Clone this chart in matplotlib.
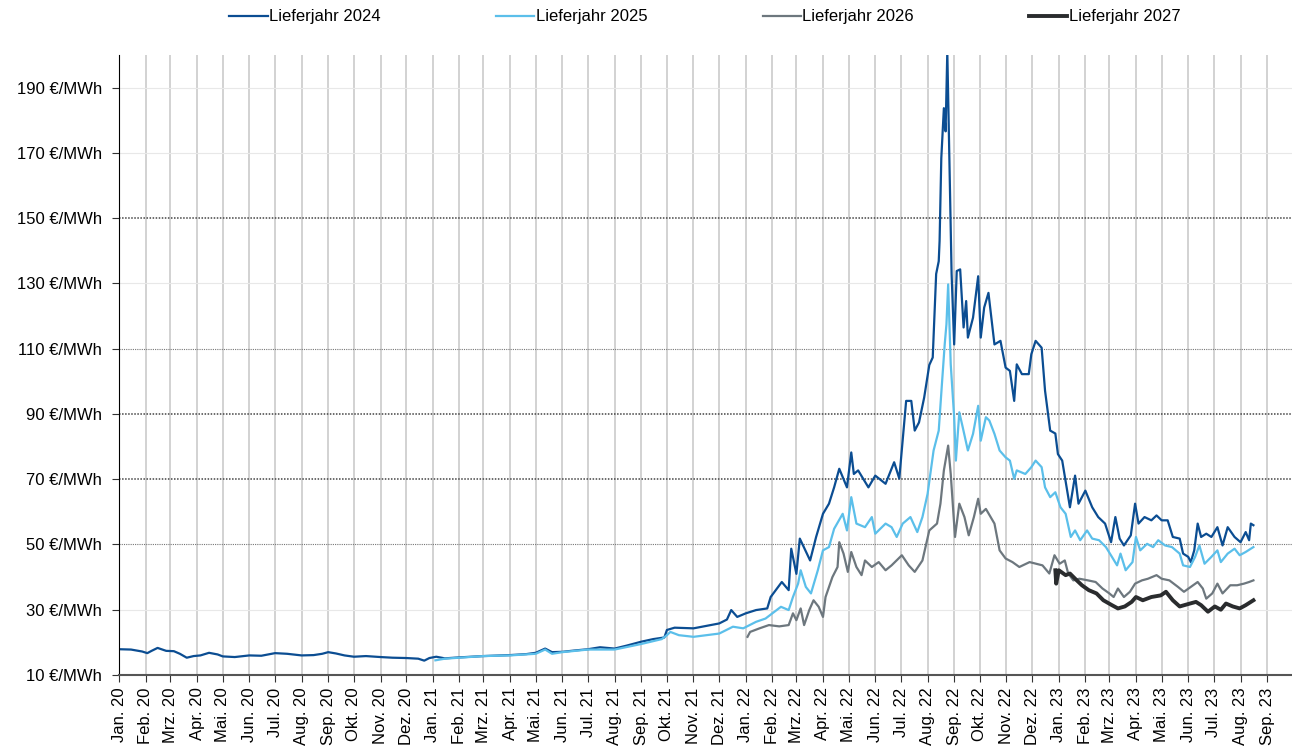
import matplotlib
matplotlib.use("Agg")
from matplotlib import pyplot as plt
import pandas as pd

plt.rcParams["font.family"] = ["Liberation Sans", "DejaVu Sans"]

# Lieferjahr 2024
d2024 = ["2020-01-01", "2020-01-15", "2020-01-28", "2020-02-03", "2020-02-08", "2020-02-15", "2020-02-25",
         "2020-03-05", "2020-03-12", "2020-03-20", "2020-03-28", "2020-04-05", "2020-04-15", "2020-04-25",
         "2020-05-01", "2020-05-15", "2020-06-01", "2020-06-15", "2020-07-01", "2020-07-15", "2020-08-01",
         "2020-08-15", "2020-08-25", "2020-09-01", "2020-09-10", "2020-09-20", "2020-10-01", "2020-10-15",
         "2020-11-01", "2020-11-15", "2020-12-01", "2020-12-15", "2020-12-22", "2020-12-28",
         "2021-01-05", "2021-01-15", "2021-02-01", "2021-03-01", "2021-04-01", "2021-04-20", "2021-05-01",
         "2021-05-12", "2021-05-20", "2021-06-01", "2021-06-15", "2021-07-01", "2021-07-15", "2021-08-01",
         "2021-08-15", "2021-09-01", "2021-09-15", "2021-09-28", "2021-10-01", "2021-10-10", "2021-11-01",
         "2021-11-15", "2021-12-01", "2021-12-10", "2021-12-15", "2021-12-22",
         "2022-01-01", "2022-01-13", "2022-01-26", "2022-01-30", "2022-02-12", "2022-02-20", "2022-02-23",
         "2022-03-01", "2022-03-05", "2022-03-17", "2022-03-24", "2022-04-01", "2022-04-08", "2022-04-14",
         "2022-04-20", "2022-04-29", "2022-05-04", "2022-05-07", "2022-05-12", "2022-05-24", "2022-06-01",
         "2022-06-13", "2022-06-23", "2022-06-29", "2022-07-07", "2022-07-13", "2022-07-17", "2022-07-22",
         "2022-07-28", "2022-08-03", "2022-08-07", "2022-08-11", "2022-08-14", "2022-08-15", "2022-08-17",
         "2022-08-20", "2022-08-22", "2022-08-24", "2022-08-26", "2022-08-29", "2022-09-01", "2022-09-04",
         "2022-09-08", "2022-09-12", "2022-09-15", "2022-09-17", "2022-09-23", "2022-09-29", "2022-10-02",
         "2022-10-06", "2022-10-11", "2022-10-18", "2022-10-25", "2022-10-31", "2022-11-05", "2022-11-10",
         "2022-11-13", "2022-11-19", "2022-11-27", "2022-11-30", "2022-12-05", "2022-12-12", "2022-12-16",
         "2022-12-22", "2022-12-28", "2022-12-31", "2023-01-05", "2023-01-14", "2023-01-20", "2023-01-24",
         "2023-02-01", "2023-02-09", "2023-02-16", "2023-02-24", "2023-03-03", "2023-03-08", "2023-03-13",
         "2023-03-18", "2023-03-26", "2023-03-31", "2023-04-04", "2023-04-11", "2023-04-19", "2023-04-25",
         "2023-05-01", "2023-05-08", "2023-05-14", "2023-05-22", "2023-05-26", "2023-06-01", "2023-06-04",
         "2023-06-08", "2023-06-12", "2023-06-16", "2023-06-22", "2023-06-28", "2023-07-05", "2023-07-11",
         "2023-07-17", "2023-07-25", "2023-08-01", "2023-08-07", "2023-08-11", "2023-08-13", "2023-08-16"]
v2024 = [17.9, 17.8, 17.2, 16.7, 17.4, 18.3, 17.4,
         17.3, 16.5, 15.3, 15.8, 16.0, 16.8, 16.3,
         15.7, 15.5, 16.0, 15.9, 16.7, 16.5, 16.0,
         16.1, 16.5, 17.0, 16.6, 16.0, 15.6, 15.8,
         15.5, 15.3, 15.2, 15.0, 14.4, 15.2,
         15.6, 15.1, 15.4, 15.8, 16.1, 16.4, 16.8,
         18.1, 17.0, 17.1, 17.5, 17.9, 18.5, 18.1,
         19.0, 20.2, 21.0, 21.5, 23.8, 24.5, 24.3,
         25.0, 25.8, 27.0, 29.9, 27.8,
         28.9, 29.9, 30.4, 33.9, 38.5, 36.0, 48.7,
         41.0, 51.8, 45.1, 52.3, 59.4, 62.5, 67.5,
         73.2, 67.5, 78.2, 71.6, 72.7, 67.5, 71.1,
         68.6, 75.2, 70.2, 94.0, 94.0, 84.9, 87.4,
         95.0, 105.0, 107.3, 132.9, 136.8, 143.0, 168.4,
         183.7, 176.6, 201.0, 173.5, 133.0, 111.3, 133.8,
         134.3, 116.5, 124.6, 113.4, 119.5, 132.2, 113.4,
         122.6, 127.1, 111.3, 112.4, 104.2, 103.2, 94.0,
         105.2, 102.2, 102.2, 108.3, 112.4, 110.3, 97.1,
         84.9, 84.0, 77.7, 75.7, 61.4, 71.1, 62.5,
         66.5, 61.4, 58.4, 56.4, 50.7, 58.4, 51.8,
         49.7, 52.8, 62.5, 56.4, 58.4, 57.4, 58.9,
         57.4, 57.4, 52.3, 51.8, 47.2, 46.2, 44.6,
         48.2, 56.4, 52.3, 53.3, 52.3, 55.3, 49.7,
         55.3, 52.3, 50.7, 53.8, 51.3, 56.4, 55.9]

# Lieferjahr 2025
d2025 = ["2021-01-04", "2021-01-15", "2021-02-01", "2021-03-01", "2021-04-01", "2021-05-01", "2021-05-12",
         "2021-05-20", "2021-06-01", "2021-07-01", "2021-08-01", "2021-09-01", "2021-09-25", "2021-10-01",
         "2021-10-05", "2021-10-15", "2021-11-01", "2021-12-01", "2021-12-17", "2021-12-29",
         "2022-01-13", "2022-01-24", "2022-02-01", "2022-02-11", "2022-02-20", "2022-02-25", "2022-03-03",
         "2022-03-06", "2022-03-12", "2022-03-18", "2022-03-26", "2022-04-01", "2022-04-08", "2022-04-14",
         "2022-04-24", "2022-04-29", "2022-05-04", "2022-05-10", "2022-05-20", "2022-05-28", "2022-06-01",
         "2022-06-13", "2022-06-20", "2022-06-26", "2022-07-03", "2022-07-12", "2022-07-20", "2022-07-26",
         "2022-08-01", "2022-08-08", "2022-08-14", "2022-08-18", "2022-08-21", "2022-08-23", "2022-08-25",
         "2022-08-28", "2022-09-01", "2022-09-03", "2022-09-07", "2022-09-11", "2022-09-17", "2022-09-23",
         "2022-09-29", "2022-10-02", "2022-10-08", "2022-10-12", "2022-10-18", "2022-10-24", "2022-10-31",
         "2022-11-05", "2022-11-10", "2022-11-13", "2022-11-23", "2022-11-30", "2022-12-05", "2022-12-12",
         "2022-12-16", "2022-12-22", "2022-12-28", "2023-01-03", "2023-01-09", "2023-01-15", "2023-01-20",
         "2023-01-26", "2023-02-03", "2023-02-09", "2023-02-17", "2023-02-25", "2023-03-04", "2023-03-10",
         "2023-03-14", "2023-03-20", "2023-03-28", "2023-04-01", "2023-04-06", "2023-04-14", "2023-04-21",
         "2023-04-27", "2023-05-05", "2023-05-13", "2023-05-22", "2023-05-26", "2023-06-03", "2023-06-09",
         "2023-06-14", "2023-06-20", "2023-06-28", "2023-07-05", "2023-07-09", "2023-07-17", "2023-07-25",
         "2023-07-31", "2023-08-07", "2023-08-16"]
v2025 = [14.5, 15.0, 15.3, 15.8, 16.0, 16.5, 17.8,
         16.5, 17.0, 17.8, 17.8, 19.5, 21.0, 22.2,
         23.2, 22.2, 21.7, 22.7, 24.8, 24.3,
         26.3, 27.3, 28.9, 30.9, 29.9, 33.9, 38.0,
         42.1, 37.0, 35.0, 42.1, 48.2, 49.2, 54.8,
         59.4, 54.3, 64.5, 56.4, 55.3, 58.4, 53.3,
         56.4, 55.3, 52.3, 56.4, 58.4, 53.8, 58.4,
         65.5, 78.8, 84.9, 100.2, 111.4, 117.5, 129.7,
         105.2, 89.0, 75.7, 90.5, 85.9, 78.8, 83.9,
         92.5, 81.8, 89.0, 88.0, 83.9, 78.8, 76.7,
         75.7, 70.1, 72.7, 71.6, 73.7, 75.7, 73.7,
         67.5, 64.5, 66.0, 61.4, 59.4, 52.3, 54.3,
         51.3, 54.3, 51.8, 51.3, 49.2, 46.2, 43.6,
         47.2, 42.1, 44.6, 52.3, 48.2, 50.2, 49.2,
         51.3, 49.7, 49.2, 47.2, 43.6, 43.1, 46.2,
         49.7, 44.1, 46.2, 48.2, 44.6, 47.2, 48.7,
         46.7, 47.7, 49.2]

# Lieferjahr 2026
d2026 = ["2022-01-03", "2022-01-06", "2022-01-17", "2022-01-28", "2022-02-09", "2022-02-20", "2022-02-25",
         "2022-03-01", "2022-03-06", "2022-03-10", "2022-03-16", "2022-03-21", "2022-03-27", "2022-04-01",
         "2022-04-04", "2022-04-12", "2022-04-18", "2022-04-20", "2022-04-25", "2022-04-30", "2022-05-04",
         "2022-05-10", "2022-05-16", "2022-05-20", "2022-05-28", "2022-06-05", "2022-06-13", "2022-06-20",
         "2022-07-02", "2022-07-10", "2022-07-17", "2022-07-26", "2022-08-03", "2022-08-12", "2022-08-16",
         "2022-08-20", "2022-08-25", "2022-08-28", "2022-09-02", "2022-09-07", "2022-09-13", "2022-09-18",
         "2022-09-24", "2022-09-29", "2022-10-02", "2022-10-08", "2022-10-18", "2022-10-24", "2022-10-31",
         "2022-11-08", "2022-11-16", "2022-11-28", "2022-12-13", "2022-12-21", "2022-12-27", "2023-01-02",
         "2023-01-08", "2023-01-12", "2023-01-18", "2023-01-25", "2023-02-04", "2023-02-13", "2023-02-21",
         "2023-03-01", "2023-03-06", "2023-03-11", "2023-03-18", "2023-03-25", "2023-03-31", "2023-04-08",
         "2023-04-15", "2023-04-25", "2023-05-01", "2023-05-10", "2023-05-20", "2023-05-27", "2023-06-04",
         "2023-06-12", "2023-06-18", "2023-06-22", "2023-06-29", "2023-07-05", "2023-07-11", "2023-07-20",
         "2023-07-28", "2023-08-05", "2023-08-11", "2023-08-16"]
v2026 = [21.7, 23.2, 24.3, 25.3, 24.9, 25.3, 28.9,
         26.8, 30.4, 25.3, 29.9, 32.9, 30.9, 27.8,
         33.9, 40.0, 43.1, 50.7, 47.2, 41.6, 47.7,
         43.1, 40.6, 45.1, 43.1, 44.6, 42.1, 43.6,
         46.7, 43.6, 41.6, 45.1, 54.3, 56.4, 62.5,
         72.7, 80.3, 71.6, 52.3, 62.5, 58.4, 52.8,
         58.4, 64.0, 59.4, 60.9, 56.4, 48.2, 45.7,
         44.6, 43.1, 44.6, 43.6, 41.1, 46.7, 44.1,
         45.1, 41.1, 39.0, 39.5, 39.0, 38.5, 36.5,
         35.0, 33.9, 36.5, 33.9, 35.5, 38.0, 39.0,
         39.5, 40.6, 39.5, 39.0, 37.0, 35.5, 37.0,
         38.5, 36.5, 33.4, 35.0, 38.0, 35.0, 37.5,
         37.5, 38.0, 38.5, 39.0]

# Lieferjahr 2027
d2027 = ["2022-12-28", "2022-12-29", "2023-01-01", "2023-01-09", "2023-01-14", "2023-01-22", "2023-01-28",
         "2023-02-05", "2023-02-14", "2023-02-22", "2023-03-04", "2023-03-11", "2023-03-19", "2023-03-27",
         "2023-04-01", "2023-04-09", "2023-04-19", "2023-04-30", "2023-05-06", "2023-05-14", "2023-05-22",
         "2023-06-03", "2023-06-10", "2023-06-16", "2023-06-24", "2023-07-02", "2023-07-09", "2023-07-15",
         "2023-07-23", "2023-07-31", "2023-08-07", "2023-08-16"]
v2027 = [42.1, 38.0, 42.1, 40.6, 41.1, 39.0, 37.5,
         36.0, 35.0, 32.9, 31.4, 30.4, 31.0, 32.4,
         33.9, 32.9, 33.9, 34.4, 35.5, 32.9, 31.0,
         31.9, 32.4, 31.4, 29.4, 31.0, 30.0, 31.9,
         31.0, 30.4, 31.4, 32.9]

month_names = ["Jan.", "Feb.", "Mrz.", "Apr.", "Mai.", "Jun.", "Jul.", "Aug.", "Sep.", "Okt.", "Nov.", "Dez."]
y_ticks = [10, 30, 50, 70, 90, 110, 130, 150, 170, 190]

fig = plt.figure(figsize=(12.92, 7.49), dpi=100)
ax = fig.add_axes([119 / 1292, 1 - 675 / 749, 1 - 119 / 1292, (675 - 55) / 749])

# vertical month grid
months = pd.date_range("2020-01-01", "2023-09-01", freq="MS")
for m in months:
    ax.axvline(m, color="#cfcfcf", lw=1.3, zorder=0)

# horizontal grid
for yv in y_ticks[1:]:
    if yv in (70, 90, 150):
        ax.axhline(yv, color="#444444", lw=1.1, ls=(0, (1, 1)), zorder=0)
    elif yv in (50, 110):
        ax.axhline(yv, color="#777777", lw=0.8, ls=(0, (1, 1)), zorder=0)
    else:
        ax.axhline(yv, color="#e8e8e8", lw=0.8, zorder=0)

ax.plot(pd.to_datetime(d2024), v2024, color="#0b4d92", lw=1.6, label="Lieferjahr 2024")
ax.plot(pd.to_datetime(d2025), v2025, color="#5bbfea", lw=1.6, label="Lieferjahr 2025")
ax.plot(pd.to_datetime(d2026), v2026, color="#6d777e", lw=1.6, label="Lieferjahr 2026")
ax.plot(pd.to_datetime(d2027), v2027, color="#2a2c2e", lw=2.8, label="Lieferjahr 2027")

ax.set_xlim(pd.Timestamp("2020-01-01"), pd.Timestamp("2023-09-30"))
ax.set_ylim(10, 200)
ax.set_yticks(y_ticks)
ax.set_yticklabels([f"{v} €/MWh" for v in y_ticks], fontsize=12)
ax.set_xticks(months)
ax.set_xticklabels([f"{month_names[m.month - 1]} {m.year % 100}" for m in months], rotation=90, fontsize=12)
ax.tick_params(axis="both", direction="out", length=5, color="#333333")
ax.tick_params(axis="y", pad=7)
ax.tick_params(axis="x", pad=4)

ax.spines["top"].set_visible(False)
ax.spines["right"].set_visible(False)
ax.spines["left"].set_color("black")
ax.spines["bottom"].set_color("#555555")
ax.spines["bottom"].set_linewidth(1.5)

fig.legend(loc="center", bbox_to_anchor=(705 / 1292, 1 - 17 / 749), ncol=4, frameon=False, fontsize=12,
           handlelength=2.3, handletextpad=0.1, columnspacing=6.9)

fig.savefig("out.png", dpi=100)
